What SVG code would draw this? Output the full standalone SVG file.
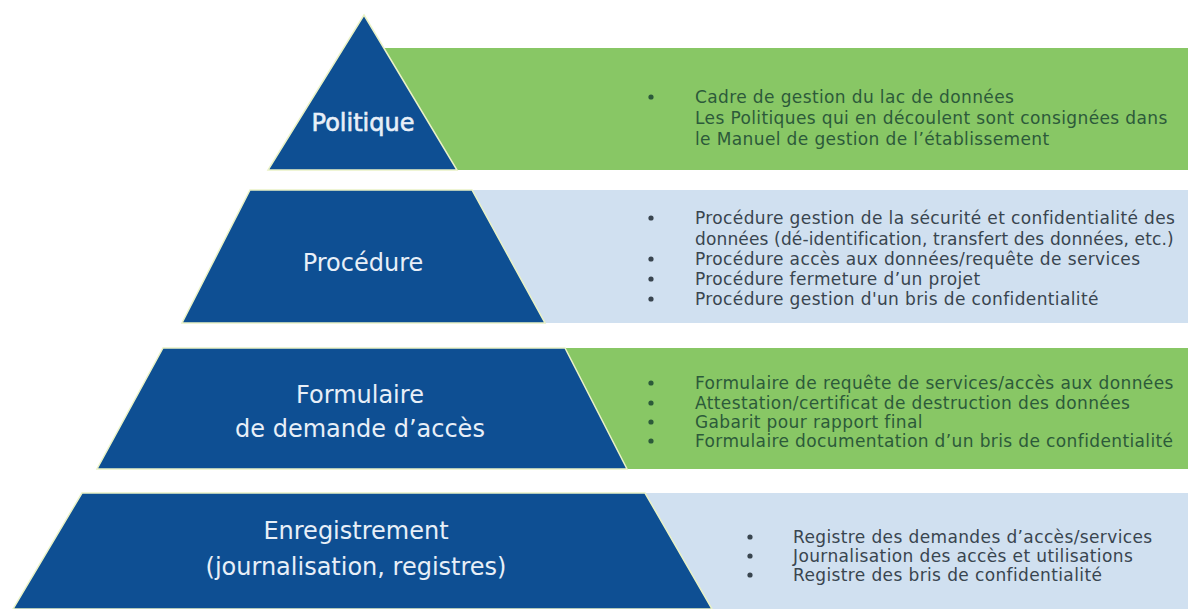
<svg xmlns="http://www.w3.org/2000/svg" width="1188" height="609" viewBox="0 0 1188 609">
  <style>
    .pyr { fill: #0e4f93; stroke: #eaf2c6; stroke-width: 1.5; stroke-linejoin: miter; }
    .green { fill: #88c765; }
    .pale { fill: #d0e0f0; }
    .lbl { font-family: "DejaVu Sans", "Liberation Sans", sans-serif; font-size: 24px; fill: #e8eff8; text-anchor: middle; }
    .lbl-b { stroke: #e8eff8; stroke-width: 0.6; }
    .txt { font-family: "DejaVu Sans", "Liberation Sans", sans-serif; font-size: 17px; letter-spacing: 0.38px; }
    .tight { letter-spacing: 0.15px; }
    .tg { fill: #2c5a3a; }
    .tb { fill: #39454f; }
  </style>
  <rect width="1188" height="609" fill="#ffffff"/>

  <g id="politique">
    <rect class="green" x="370" y="48" width="818" height="122"/>
    <polygon class="pyr" points="364,15 457,170 268,170"/>
    <text class="lbl lbl-b" x="363" y="131">Politique</text>
    <circle class="tg" cx="651" cy="97" r="2.6"/>
    <text class="txt tg" x="695" y="103">Cadre de gestion du lac de données</text>
    <text class="txt tg" x="695" y="124">Les Politiques qui en découlent sont consignées dans</text>
    <text class="txt tg" x="695" y="145">le Manuel de gestion de l’établissement</text>
  </g>

  <g id="procedure">
    <rect class="pale" x="400" y="190" width="788" height="133"/>
    <polygon class="pyr" points="250,190 472,190 545,323 182,323"/>
    <text class="lbl" x="363" y="271">Procédure</text>
    <circle class="tb" cx="651" cy="218" r="2.6"/>
    <circle class="tb" cx="651" cy="259" r="2.6"/>
    <circle class="tb" cx="651" cy="279" r="2.6"/>
    <circle class="tb" cx="651" cy="299" r="2.6"/>
    <text class="txt tb" x="695" y="224">Procédure gestion de la sécurité et confidentialité des</text>
    <text class="txt tb tight" x="695" y="245">données (dé-identification, transfert des données, etc.)</text>
    <text class="txt tb" x="695" y="265">Procédure accès aux données/requête de services</text>
    <text class="txt tb" x="695" y="285">Procédure fermeture d’un projet</text>
    <text class="txt tb" x="695" y="305">Procédure gestion d'un bris de confidentialité</text>
  </g>

  <g id="formulaire">
    <rect class="green" x="500" y="348" width="688" height="121"/>
    <polygon class="pyr" points="163,348 565,348 627,469 97,469"/>
    <text class="lbl" x="360" y="403">Formulaire</text>
    <text class="lbl" x="360" y="437">de demande d’accès</text>
    <circle class="tg" cx="651" cy="383" r="2.6"/>
    <circle class="tg" cx="651" cy="403" r="2.6"/>
    <circle class="tg" cx="651" cy="422" r="2.6"/>
    <circle class="tg" cx="651" cy="441" r="2.6"/>
    <text class="txt tg" x="695" y="389">Formulaire de requête de services/accès aux données</text>
    <text class="txt tg" x="695" y="409">Attestation/certificat de destruction des données</text>
    <text class="txt tg" x="695" y="428">Gabarit pour rapport final</text>
    <text class="txt tg" x="695" y="447">Formulaire documentation d’un bris de confidentialité</text>
  </g>

  <g id="enregistrement">
    <rect class="pale" x="600" y="493" width="588" height="116"/>
    <polygon class="pyr" points="82,493 645,493 712,609 13,609"/>
    <text class="lbl" x="356" y="539">Enregistrement</text>
    <text class="lbl" x="356" y="575">(journalisation, registres)</text>
    <circle class="tb" cx="750" cy="537" r="2.6"/>
    <circle class="tb" cx="750" cy="556" r="2.6"/>
    <circle class="tb" cx="750" cy="575" r="2.6"/>
    <text class="txt tb" x="793" y="543">Registre des demandes d’accès/services</text>
    <text class="txt tb" x="793" y="562">Journalisation des accès et utilisations</text>
    <text class="txt tb" x="793" y="581">Registre des bris de confidentialité</text>
  </g>
</svg>
